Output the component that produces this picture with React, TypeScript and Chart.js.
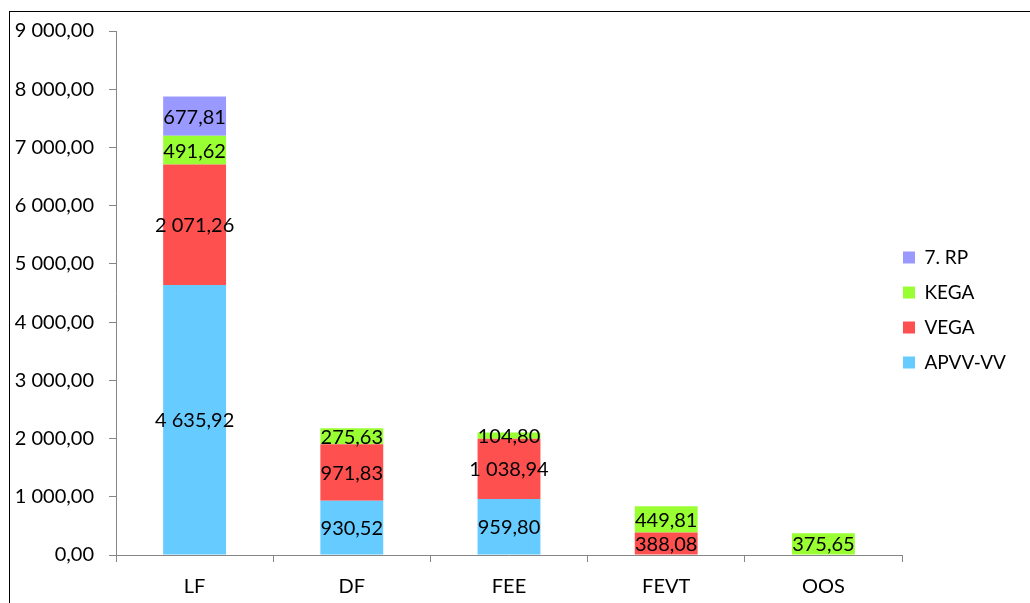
import React, { useEffect, useRef } from "react";
import { Chart, registerables } from "chart.js";

Chart.register(...registerables);

const categories = ["LF", "DF", "FEE", "FEVT", "OOS"];
const apvv = [4635.92, 930.52, 959.8, null, null];
const vega = [2071.26, 971.83, 1038.94, 388.08, null];
const kega = [491.62, 275.63, 104.8, 449.81, 375.65];
const rp7 = [677.81, null, null, null, null];
const seriesNames = ["APVV-VV", "VEGA", "KEGA", "7. RP"];
const seriesColors = ["#66CCFF", "#FF5050", "#99FF33", "#9999FF"];
const yMin = 0;
const yMax = 9000;
const yStep = 1000;

const FONT = "Lato";

function fmt(v: number): string {
  const s = Math.abs(v).toFixed(2);
  const [i, d] = s.split(".");
  const withSp = i.replace(/\B(?=(\d{3})+(?!\d))/g, " ");
  return (v < 0 ? "-" : "") + withSp + "," + d;
}

const dataLabels = {
  id: "dataLabels",
  afterDatasetsDraw(chart: any) {
    const ctx = chart.ctx;
    ctx.save();
    ctx.font = `20px ${FONT}`;
    ctx.fillStyle = "#000";
    ctx.textAlign = "center";
    ctx.textBaseline = "middle";
    chart.data.datasets.forEach((ds: any, di: number) => {
      const meta = chart.getDatasetMeta(di);
      meta.data.forEach((el: any, i: number) => {
        const v = ds.data[i];
        if (v == null || v === 0) return;
        const y = (el.y + el.base) / 2;
        ctx.fillText(fmt(v), el.x, y + 1);
      });
    });
    ctx.restore();
  },
};

const legendShift = {
  id: "legendShift",
  afterLayout(chart: any) {
    const lg = chart.legend;
    if (!lg) return;
    const pad = lg.options.labels.padding;
    lg.left -= pad - 1;
    lg.right -= pad - 1;
  },
};

export default function App() {
  const ref = useRef<HTMLCanvasElement>(null);
  useEffect(() => {
    if (!ref.current) return;
    const data = [apvv, vega, kega, rp7];
    const chart = new Chart(ref.current, {
      type: "bar",
      data: {
        labels: categories,
        datasets: data.map((d, k) => ({
          label: seriesNames[k],
          data: d as any,
          backgroundColor: seriesColors[k],
          borderWidth: 0,
          barPercentage: 0.4,
          categoryPercentage: 1,
        })),
      },
      options: {
        animation: false,
        responsive: false,
        maintainAspectRatio: false,
        layout: { padding: { top: 5, bottom: 0, left: 0, right: 0 } },
        plugins: {
          tooltip: { enabled: false },
          legend: {
            position: "right",
            reverse: true,
            maxWidth: 128,
            labels: {
              boxWidth: 12,
              boxHeight: 12,
              padding: 16,
              color: "#000",
              font: { family: FONT, size: 19 },
            },
          },
        },
        scales: {
          x: {
            stacked: true,
            afterFit: (s: any) => {
              s.height = 48;
            },
            grid: {
              offset: true,
              drawOnChartArea: false,
              drawTicks: true,
              tickLength: 7,
              color: "#868686",
            },
            border: { display: true, color: "#868686" },
            ticks: { color: "#000", padding: 13, font: { family: FONT, size: 20 } },
          },
          y: {
            stacked: true,
            min: yMin,
            max: yMax,
            afterFit: (s: any) => {
              s.width = 106;
              s.paddingTop = 19;
            },
            grid: {
              drawOnChartArea: false,
              drawTicks: true,
              tickLength: 7,
              color: "#868686",
            },
            border: { display: true, color: "#868686" },
            ticks: {
              stepSize: yStep,
              color: "#000",
              padding: 15,
              font: { family: FONT, size: 20 },
              callback: (v: any) => fmt(Number(v)),
            },
          },
        },
      },
      plugins: [dataLabels, legendShift],
    });
    return () => chart.destroy();
  }, []);
  return (
    <div
      style={{
        position: "absolute",
        left: 9,
        top: 11,
        width: 1021,
        height: 592,
        boxSizing: "border-box",
        borderLeft: "1px solid #000",
        borderTop: "1px solid #000",
        overflow: "hidden",
      }}
    >
      <canvas ref={ref} width={1020} height={591} style={{ display: "block" }} />
    </div>
  );
}
